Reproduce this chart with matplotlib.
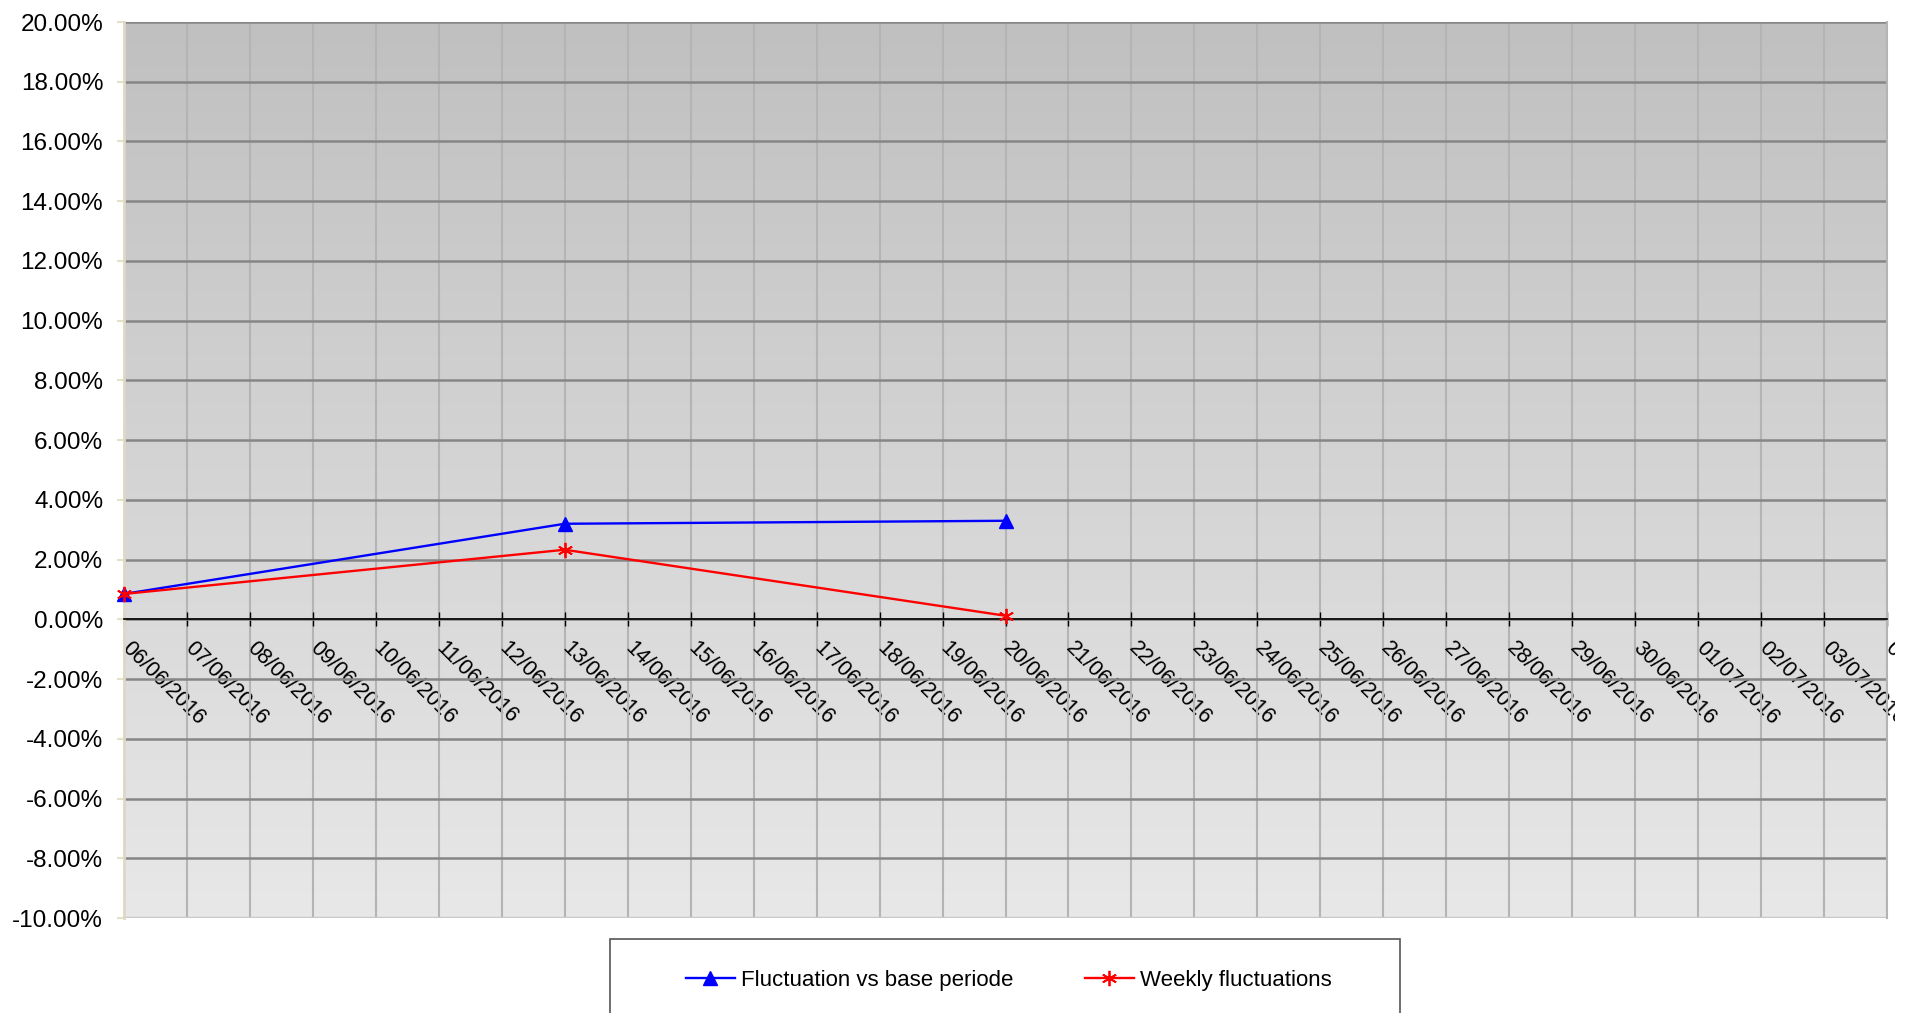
import numpy as np
import pandas as pd
import matplotlib
matplotlib.use('Agg')
import matplotlib.pyplot as plt
import matplotlib.dates as mdates
from matplotlib.ticker import PercentFormatter, MultipleLocator
from matplotlib.patches import Rectangle
from matplotlib.transforms import Bbox, TransformedBbox, ScaledTranslation

# Data
dates = pd.to_datetime(['2016-06-06', '2016-06-13', '2016-06-20'])
base_fluct = [0.85, 3.20, 3.30]      # Fluctuation vs base periode (%)
weekly_fluct = [0.85, 2.33, 0.12]    # Weekly fluctuations (%)
x_start, x_end = pd.Timestamp('2016-06-06'), pd.Timestamp('2016-07-04')
y_min, y_max = -10, 20

plt.rcParams['font.family'] = ['Liberation Sans', 'DejaVu Sans']
plt.rcParams['axes.unicode_minus'] = False

W, H = 1917, 1013
fig = plt.figure(figsize=(W / 100, H / 100), dpi=100)
ax = fig.add_axes([124 / W, 1 - 918 / H, (1887 - 124) / W, (918 - 22) / H])

# gradient background
grad = np.linspace(0, 1, 256).reshape(-1, 1)
cmap = matplotlib.colors.LinearSegmentedColormap.from_list('bg', ['#c0c0c0', '#e8e8e8'])
ax.imshow(grad, extent=[0, 1, 0, 1], transform=ax.transAxes, aspect='auto',
          cmap=cmap, origin='upper', zorder=0)

ax.plot(dates, base_fluct, color='#0000ff', linewidth=1.7, marker='^',
        markersize=9.5, label='Fluctuation vs base periode', zorder=5, clip_on=False)
ax.plot(dates, weekly_fluct, color='#ff0000', linewidth=1.7, marker=(6, 2, 0),
        markersize=11, markeredgewidth=1.3, label='Weekly fluctuations', zorder=6, clip_on=False)

ax.set_xlim(x_start, x_end)
ax.set_ylim(y_min, y_max)

# grid
ax.xaxis.set_major_locator(mdates.DayLocator())
ax.xaxis.set_major_formatter(mdates.DateFormatter('%d/%m/%Y'))
ax.yaxis.set_major_locator(MultipleLocator(2))
ax.yaxis.set_major_formatter(PercentFormatter(xmax=100, decimals=2))
ax.grid(axis='x', color='#b4b4b4', linewidth=1.5, zorder=1)
ax.grid(axis='y', color='#868686', linewidth=1.8, zorder=1)

# spines
ax.spines['bottom'].set_position(('data', 0))
ax.spines['bottom'].set_color('black')
ax.spines['bottom'].set_linewidth(1.2)
ax.spines['bottom'].set_zorder(4)
ax.spines['top'].set_visible(False)
ax.spines['right'].set_color('#b4b4b4')
ax.spines['right'].set_linewidth(1.5)
ax.spines['left'].set_color('#dcd8c4')
ax.spines['left'].set_linewidth(2)
ax.axhline(y_min, color='#c8c8c8', linewidth=2.5, zorder=2)

ax.tick_params(axis='x', direction='inout', length=10, width=1, color='black',
               labelsize=15.5, pad=0)
ax.tick_params(axis='y', direction='out', length=5, width=1.5, color='#e4e0cc',
               labelsize=17.5, pad=10)
shift = ScaledTranslation(8 / 100, -11 / 100, fig.dpi_scale_trans)
for lab in ax.get_xticklabels():
    lab.set_rotation(-45)
    lab.set_ha('left')
    lab.set_va('top')
    lab.set_rotation_mode('anchor')
    lab.set_transform(lab.get_transform() + shift)
    lab.set_clip_on(True)
    lab.set_clip_box(TransformedBbox(Bbox([[0, 0], [1895 / W, 1]]), fig.transFigure))

# legend box
fig.patches.append(Rectangle((610 / W, -0.05), (1400 - 610) / W, 0.05 + 1 - 939 / H,
                             transform=fig.transFigure, facecolor='white',
                             edgecolor='#555555', linewidth=1.2))
fig.legend(loc='center', bbox_to_anchor=(1009 / W, 1 - 980 / H), ncol=2,
           frameon=False, fontsize=16, handlelength=2.2, handletextpad=0.3,
           columnspacing=3.2)

fig.savefig('out.png', dpi=100)
